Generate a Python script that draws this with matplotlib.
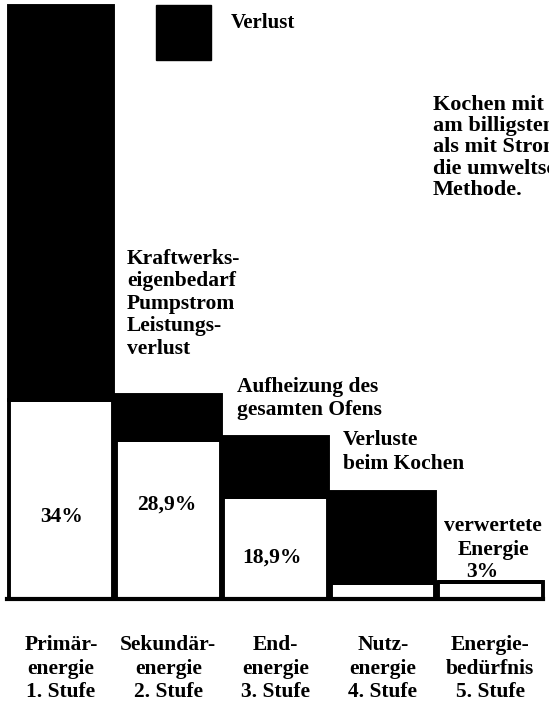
import matplotlib.pyplot as plt
from matplotlib.patches import Rectangle

plt.rcParams['font.family'] = ['Liberation Serif', 'DejaVu Serif']

# stages of the energy chain
stages = ["Primär-\nenergie\n1. Stufe", "Sekundär-\nenergie\n2. Stufe",
          "End-\nenergie\n3. Stufe", "Nutz-\nenergie\n4. Stufe",
          "Energie-\nbedürfnis\n5. Stufe"]
# heights as drawn in the picture (percent of primary energy)
useful = [33.6, 26.8, 17.2, 2.7, 2.9]        # white part
total = [100.0, 34.4, 27.3, 18.0, 2.9]       # top of black (loss) part
value_labels = ["34%", "28,9%", "18,9%"]

W, H = 549, 706
BASE = 599      # pixel row of the baseline
PX_PER_UNIT = 5.93
fig = plt.figure(figsize=(W / 100, H / 100), dpi=100)
ax = fig.add_axes([0, (H - BASE) / H, 1, BASE / H])

x = list(range(len(stages)))
loss = [t - u for t, u in zip(total, useful)]
ax.bar(x, useful, width=0.975, color='white', edgecolor='black', linewidth=2.8)
ax.bar(x, loss, bottom=useful, width=0.975, color='black', edgecolor='black',
       linewidth=2.8)

ax.set_xlim(-0.568, 4.548)
ax.set_ylim(0, BASE / PX_PER_UNIT)
ax.axhline(0, xmin=7 / W, xmax=543 / W, color='black', linewidth=3,
           clip_on=False)
ax.set_xticks(x)
ax.set_xticklabels(stages, fontsize=15.5, fontweight='bold', linespacing=1.24)
ax.tick_params(axis='x', length=0, pad=26)
ax.set_yticks([])
for s in ax.spines.values():
    s.set_visible(False)


def fx(px):
    return px / W


def fy(py):
    return 1 - py / H


txt = dict(fontsize=15.5, fontweight='bold')

# percentage labels inside the white bars
for lab, (px, py) in zip(value_labels, [(62, 517), (167, 505), (272, 558)]):
    fig.text(fx(px), fy(py), lab, ha='center', va='center', **txt)

# legend square
fig.patches.append(Rectangle((fx(156), fy(60)), 55 / W, 55 / H,
                             transform=fig.transFigure, color='black'))
fig.text(fx(231), fy(13), "Verlust", fontsize=15, fontweight='bold', va='top')

fig.text(fx(127), fy(249),
         "Kraftwerks-\neigenbedarf\nPumpstrom\nLeistungs-\nverlust",
         va='top', linespacing=1.16, **txt)
fig.text(fx(237), fy(377), "Aufheizung des\ngesamten Ofens", va='top',
         linespacing=1.17, **txt)
fig.text(fx(343), fy(430), "Verluste\nbeim Kochen", va='top',
         linespacing=1.24, **txt)
fig.text(fx(493), fy(516), "verwertete\nEnergie", ha='center', va='top',
         linespacing=1.24, **txt)
fig.text(fx(482), fy(562), "3%", ha='center', va='top', **txt)

# side note, cut off at the right edge as in the original print
fig.text(fx(433), fy(95), "Kochen mit\nam billigsten\nals mit Strom\n"
         "die umweltschädlichste\nMethode.", fontsize=16, fontweight='heavy',
         linespacing=1.08, va='top')

fig.savefig('out.png', dpi=100)
